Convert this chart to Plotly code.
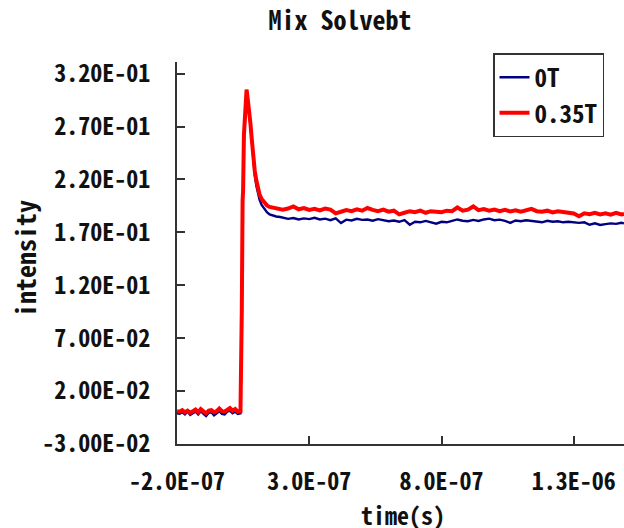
import plotly.graph_objects as go

# Sample times in nanoseconds (converted to seconds below)
time_ns = [
    -200, -190, -180, -170, -160, -150, -140, -130, -120, -110, -100, -90, -80,
    -70, -60, -50, -40, -30, -20, -10, 0, 10, 20, 30, 40,
    41, 42, 45, 48, 50, 53, 56, 60, 63, 66, 70, 74, 78, 82, 88, 94, 100, 106,
    112, 120, 130, 140, 150, 160, 175, 190,
    200, 220, 240, 260, 280, 300, 320, 340, 360, 380, 400, 420, 440, 460, 480,
    500, 520, 540, 560, 580, 600, 620, 640, 660, 680, 700, 720, 740, 760, 780,
    800, 820, 840, 860, 880, 900, 920, 940, 960, 980, 1000, 1020, 1040, 1060,
    1080, 1100, 1120, 1140, 1160, 1180, 1200, 1220, 1240, 1260, 1280, 1300,
    1320, 1340, 1360, 1380, 1400, 1420, 1440, 1460, 1480, 1490,
]

# Intensity, no field
intensity_0T = [
    -0.0010, -0.0015, 0.0000, -0.0020, 0.0005, -0.0025, -0.0010, 0.0005, -0.0020,
    0.0010, -0.0015, -0.0035, -0.0005, 0.0000, -0.0030, -0.0010, 0.0010, -0.0015,
    -0.0020, 0.0005, 0.0015, -0.0010, 0.0005, -0.0015, -0.0010,
    0.018, 0.082, 0.094, 0.198, 0.208, 0.258, 0.275, 0.294, 0.300, 0.297, 0.290,
    0.282, 0.270, 0.257, 0.236, 0.224, 0.214, 0.207, 0.201, 0.196, 0.192, 0.189,
    0.187, 0.186, 0.185, 0.1845,
    0.1840, 0.1828, 0.1835, 0.1822, 0.1832, 0.1825, 0.1838, 0.1822, 0.1830,
    0.1815, 0.1832, 0.1788, 0.1820, 0.1812, 0.1828, 0.1818, 0.1822, 0.1810,
    0.1825, 0.1815, 0.1805, 0.1812, 0.1800, 0.1815, 0.1772, 0.1800, 0.1795,
    0.1808, 0.1798, 0.1782, 0.1800, 0.1795, 0.1808, 0.1822, 0.1810, 0.1805,
    0.1818, 0.1808, 0.1822, 0.1830, 0.1815, 0.1820, 0.1808, 0.1790, 0.1812,
    0.1805, 0.1815, 0.1808, 0.1800, 0.1795, 0.1810, 0.1800, 0.1805, 0.1795,
    0.1800, 0.1792, 0.1790, 0.1795, 0.1772, 0.1785, 0.1770, 0.1778, 0.1785,
    0.1780, 0.1790, 0.1785,
]

# Intensity, 0.35 T
intensity_035T = [
    0.0010, 0.0005, 0.0020, 0.0000, 0.0015, -0.0005, 0.0010, 0.0025, 0.0000,
    0.0030, 0.0010, -0.0010, 0.0015, 0.0020, 0.0000, 0.0010, 0.0035, 0.0010,
    0.0005, 0.0025, 0.0040, 0.0015, 0.0030, 0.0005, 0.0010,
    0.020, 0.084, 0.096, 0.200, 0.210, 0.262, 0.278, 0.298, 0.305, 0.299, 0.292,
    0.284, 0.272, 0.260, 0.240, 0.228, 0.219, 0.212, 0.206, 0.2015, 0.198,
    0.1955, 0.194, 0.1935, 0.1925, 0.1920,
    0.1915, 0.1925, 0.1945, 0.1918, 0.1930, 0.1912, 0.1922, 0.1908, 0.1925,
    0.1915, 0.1880, 0.1895, 0.1910, 0.1900, 0.1918, 0.1905, 0.1930, 0.1912,
    0.1900, 0.1915, 0.1895, 0.1905, 0.1870, 0.1885, 0.1900, 0.1890, 0.1905,
    0.1885, 0.1900, 0.1895, 0.1890, 0.1905, 0.1900, 0.1935, 0.1905, 0.1915,
    0.1945, 0.1910, 0.1920, 0.1905, 0.1915, 0.1900, 0.1912, 0.1898, 0.1908,
    0.1895, 0.1905, 0.1922, 0.1900, 0.1895, 0.1905, 0.1888, 0.1900, 0.1892,
    0.1885, 0.1878, 0.1852, 0.1880, 0.1872, 0.1885, 0.1870, 0.1880, 0.1868,
    0.1885, 0.1870, 0.1875,
]

x_tickvals = [-2.0e-7, 3.0e-7, 8.0e-7, 1.3e-6]
x_ticktext = ["-2.0E-07", "3.0E-07", "8.0E-07", "1.3E-06"]
y_tickvals = [-0.03, 0.02, 0.07, 0.12, 0.17, 0.22, 0.27, 0.32]
y_ticktext = ["-3.00E-02", "2.00E-02", "7.00E-02", "1.20E-01",
              "1.70E-01", "2.20E-01", "2.70E-01", "3.20E-01"]

time_s = [t * 1e-9 for t in time_ns]

FONT = "Noto Sans Mono CJK JP, Noto Sans CJK JP, sans-serif"
INK = "#111111"


def font(size):
    return dict(size=size, family=FONT, color=INK, weight="bold")


fig = go.Figure()
fig.add_trace(go.Scatter(
    x=time_s, y=intensity_0T, mode="lines", name="0T",
    line=dict(color="#000080", width=2.4),
))
fig.add_trace(go.Scatter(
    x=time_s, y=intensity_035T, mode="lines", name="0.35T",
    line=dict(color="#FF0000", width=4),
))

W, H = 624, 528
L, R, T, B = 177, 0, 62, 84
pw, ph = W - L - R, H - T - B


def px_x(x):
    return (x - L) / pw


def px_y(y):
    return (H - B - y) / ph


fig.update_layout(
    width=W, height=H,
    margin=dict(l=L, r=R, t=T, b=B, pad=0),
    paper_bgcolor="white", plot_bgcolor="white",
    font=font(24),
    title=dict(text="Mix Solvebt", x=340 / W, xref="container", xanchor="center",
               y=1 - 21 / H, yref="container", yanchor="middle",
               font=font(26)),
    showlegend=True,
    legend=dict(
        x=px_x(493), y=px_y(53), xanchor="left", yanchor="top",
        bgcolor="white", bordercolor="#333333", borderwidth=1.5,
        font=font(25),
        tracegroupgap=0,
    ),
    xaxis=dict(
        range=[-2.0e-7, 1.49e-6], tickmode="array",
        tickvals=x_tickvals, ticktext=x_ticktext,
        ticks="inside", ticklen=8, tickwidth=1.5, tickcolor="#333333",
        showline=True, linecolor="#333333", linewidth=1.8,
        showgrid=False, zeroline=False, ticklabelstandoff=15,
        ticklabeloverflow="allow",
        tickfont=font(24),
    ),
    yaxis=dict(
        range=[-0.03, 0.331], tickmode="array",
        tickvals=y_tickvals, ticktext=y_ticktext,
        ticks="inside", ticklen=8, tickwidth=1.5, tickcolor="#333333",
        showline=True, linecolor="#333333", linewidth=1.8,
        showgrid=False, zeroline=False, ticklabelstandoff=20,
        tickfont=font(24),
    ),
    annotations=[
        dict(text="intensity", textangle=-90, xref="paper", yref="paper",
             x=px_x(24), y=px_y(259), xanchor="center", yanchor="middle",
             showarrow=False, font=font(26)),
        dict(text="time(s)", xref="paper", yref="paper",
             x=px_x(403), y=px_y(514), xanchor="center", yanchor="middle",
             showarrow=False, font=font(24)),
    ],
)

fig.write_html("out.html")
